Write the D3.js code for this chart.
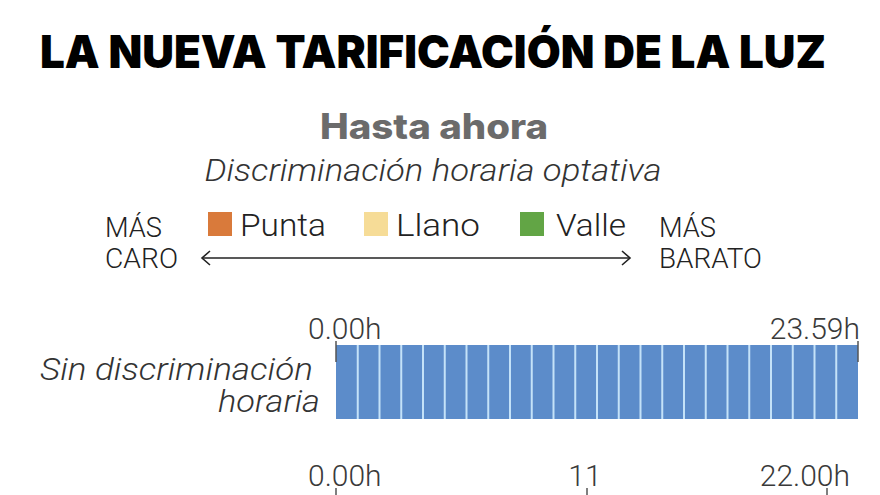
<!DOCTYPE html>
<html>
<head>
<meta charset="utf-8">
<script src="https://cdn.jsdelivr.net/npm/d3@7/dist/d3.min.js"></script>
<style>
  html, body { margin: 0; padding: 0; background: #fff; }
  svg { display: block; }
</style>
</head>
<body>
<svg id="chart" width="880" height="495"></svg>
<script>
// ---- data ----
const title = "LA NUEVA TARIFICACIÓN DE LA LUZ";
const sectionTitle = "Hasta ahora";
const sectionSubtitle = "Discriminación horaria optativa";
const legendCategories = ["Punta", "Llano", "Valle"];
const leftEndLabel = ["MÁS", "CARO"];
const rightEndLabel = ["MÁS", "BARATO"];
const rowLabel = ["Sin discriminación", "horaria"];
const hours = [0, 1, 2, 3, 4, 5, 6, 7, 8, 9, 10, 11, 12, 13, 14, 15, 16, 17, 18, 19, 20, 21, 22, 23];
const topTickValues = [0, 24];
const topTickLabels = ["0.00h", "23.59h"];
const bottomTickValues = [0, 11, 22];
const bottomTickLabels = ["0.00h", "11", "22.00h"];

// ---- styles ----
const legendColors = ["#d97a3b", "#f6dc97", "#62a545"];
const barColor = "#5c8cca";
const sepColor = "#c4e2f8";

const svg = d3.select("#chart");

// Title
svg.append("text")
  .attr("x", 40).attr("y", 68)
  .attr("font-family", "Inter, 'Noto Sans', sans-serif")
  .attr("font-weight", 900)
  .attr("font-size", 45)
  .attr("fill", "#000")
  .attr("textLength", 786)
  .attr("lengthAdjust", "spacingAndGlyphs")
  .text(title);

// Section title
svg.append("text")
  .attr("x", 434).attr("y", 139)
  .attr("text-anchor", "middle")
  .attr("font-family", "Inter, 'Noto Sans', sans-serif")
  .attr("font-weight", 800)
  .attr("font-size", 35)
  .attr("fill", "#6b6b6b")
  .attr("textLength", 228)
  .attr("lengthAdjust", "spacingAndGlyphs")
  .text(sectionTitle);

svg.append("text")
  .attr("x", 433).attr("y", 181)
  .attr("text-anchor", "middle")
  .attr("font-family", "Roboto, sans-serif")
  .attr("font-weight", 300)
  .attr("font-style", "italic")
  .attr("font-size", 31)
  .attr("fill", "#333")
  .attr("textLength", 457)
  .attr("lengthAdjust", "spacingAndGlyphs")
  .text(sectionSubtitle);

// Legend
const legendFont = "Roboto, sans-serif";
const legendX = d3.scalePoint().domain(legendCategories).range([208, 520]);
const legendTextLen = [86, 84, 70];
const lg = svg.append("g");
const item = lg.selectAll("g.item").data(legendCategories).join("g")
  .attr("class", "item")
  .attr("transform", d => `translate(${legendX(d)},0)`);
item.append("rect")
  .attr("x", 0).attr("y", 212).attr("width", 24).attr("height", 24)
  .attr("fill", (d, i) => legendColors[i]);
item.append("text")
  .attr("x", d => d === "Valle" ? 36 : 32).attr("y", 236)
  .attr("font-family", legendFont)
  .attr("font-weight", 300)
  .attr("font-size", 32)
  .attr("fill", "#222")
  .attr("textLength", (d, i) => legendTextLen[i])
  .attr("lengthAdjust", "spacingAndGlyphs")
  .text(d => d);

function endLabel(lines, x, lens) {
  lines.forEach((l, i) => {
    svg.append("text")
      .attr("x", x).attr("y", 237 + i * 31)
      .attr("font-family", legendFont)
      .attr("font-weight", 300)
      .attr("font-size", 27)
      .attr("fill", "#222")
      .attr("textLength", lens[i])
      .attr("lengthAdjust", "spacingAndGlyphs")
      .text(l);
  });
}
endLabel(leftEndLabel, 105, [57, 73]);
endLabel(rightEndLabel, 659, [57, 103]);

// Arrow
const ay = 258;
svg.append("line")
  .attr("x1", 202).attr("x2", 630).attr("y1", ay).attr("y2", ay)
  .attr("stroke", "#222").attr("stroke-width", 1.6);
svg.append("path")
  .attr("d", `M210,${ay - 7} L202,${ay} L210,${ay + 7}`)
  .attr("fill", "none").attr("stroke", "#222").attr("stroke-width", 1.6);
svg.append("path")
  .attr("d", `M622,${ay - 7} L630,${ay} L622,${ay + 7}`)
  .attr("fill", "none").attr("stroke", "#222").attr("stroke-width", 1.6);

// Row: sin discriminación
const x = d3.scaleLinear().domain([0, 24]).range([336, 858]);
const barTop = 345, barBottom = 419;

const rowLabelX = [313, 320];
const rowLabelLen = [273, 102];
rowLabel.forEach((l, i) => {
  svg.append("text")
    .attr("x", rowLabelX[i]).attr("y", 380 + i * 32)
    .attr("text-anchor", "end")
    .attr("font-family", "Roboto, sans-serif")
    .attr("font-weight", 300)
    .attr("font-style", "italic")
    .attr("font-size", 31)
    .attr("fill", "#333")
    .attr("textLength", rowLabelLen[i])
    .attr("lengthAdjust", "spacingAndGlyphs")
    .text(l);
});

svg.append("rect")
  .attr("x", x(0)).attr("y", barTop)
  .attr("width", x(24) - x(0)).attr("height", barBottom - barTop)
  .attr("fill", sepColor);
svg.append("g").selectAll("rect").data(hours).join("rect")
  .attr("x", d => x(d) + (d === 0 ? 0 : 1))
  .attr("y", barTop)
  .attr("width", d => x(d + 1) - x(d) - (d === 0 ? 1 : 2) + (d === 23 ? 1 : 0))
  .attr("height", barBottom - barTop)
  .attr("fill", barColor);

// top ticks
const tickFont = "Roboto, sans-serif";
const tg = svg.append("g");
tg.selectAll("line").data(topTickValues).join("line")
  .attr("x1", d => x(d)).attr("x2", d => x(d))
  .attr("y1", 341).attr("y2", 362)
  .attr("stroke", "#555").attr("stroke-width", 1.5);
tg.selectAll("text").data(topTickValues).join("text")
  .attr("x", (d, i) => i === 0 ? x(d) - 28 : x(d) + 2)
  .attr("y", 339)
  .attr("text-anchor", (d, i) => i === 0 ? "start" : "end")
  .attr("font-family", tickFont)
  .attr("font-weight", 300)
  .attr("font-size", 30)
  .attr("fill", "#3a3a3a")
  .text((d, i) => topTickLabels[i]);

// bottom row ticks (row partly visible)
const x2 = d3.scaleLinear().domain([0, 11, 22]).range([336, 587, 827]);
const bg = svg.append("g");
bg.selectAll("line").data(bottomTickValues).join("line")
  .attr("x1", d => x2(d)).attr("x2", d => x2(d))
  .attr("y1", 488).attr("y2", 500)
  .attr("stroke", "#555").attr("stroke-width", 1.5);
bg.selectAll("text").data(bottomTickValues).join("text")
  .attr("x", (d, i) => i === 0 ? x2(d) - 28 : i === 1 ? x2(d) - 2 : x2(d) + 23)
  .attr("y", 486)
  .attr("text-anchor", (d, i) => i === 0 ? "start" : i === 1 ? "middle" : "end")
  .attr("font-family", tickFont)
  .attr("font-weight", 300)
  .attr("font-size", 30)
  .attr("fill", "#3a3a3a")
  .text((d, i) => bottomTickLabels[i]);
</script>
</body>
</html>
